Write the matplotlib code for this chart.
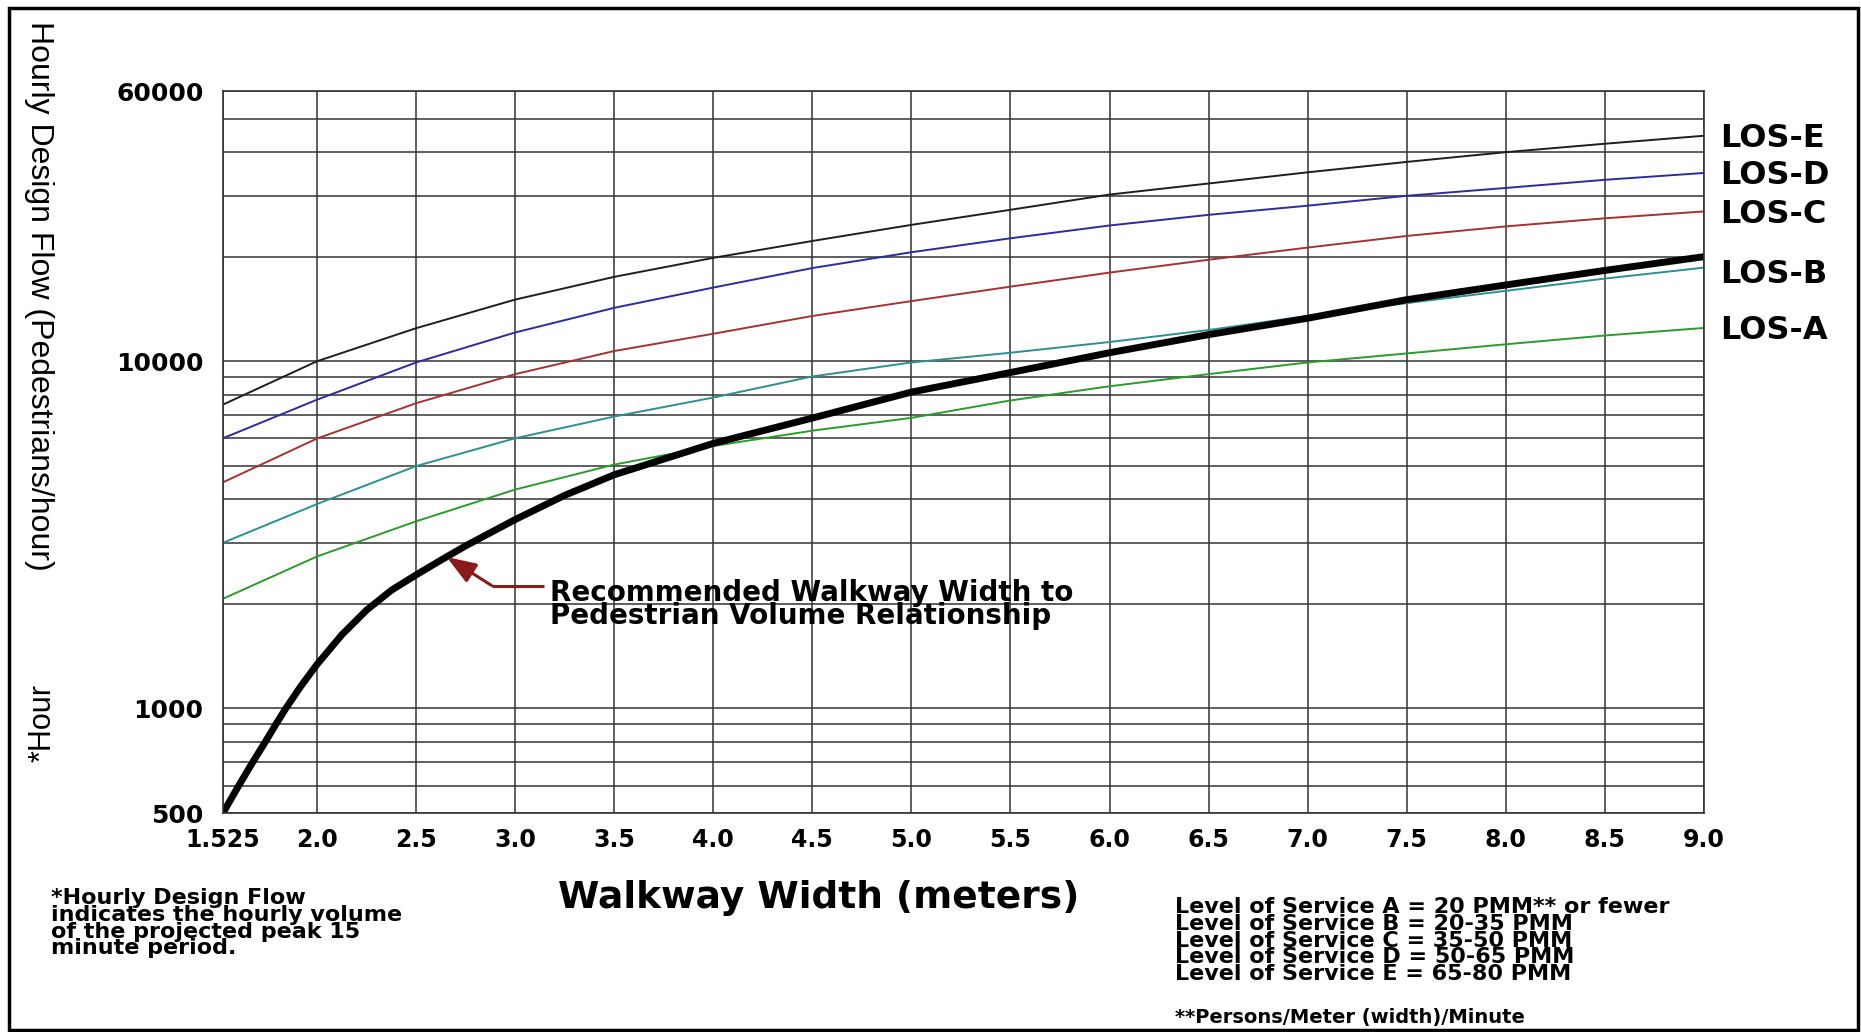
import matplotlib.pyplot as plt
from matplotlib.patches import Rectangle

# walkway width (m) at each grid line
widths = [1.525, 2.0, 2.5, 3.0, 3.5, 4.0, 4.5, 5.0, 5.5, 6.0, 6.5, 7.0, 7.5, 8.0, 8.5, 9.0]

# hourly design flow for each level of service
los_e = [7500, 10000, 12450, 15050, 17500, 19850, 22200, 24700, 27300, 30200, 32500, 35000, 37500, 40000, 42300, 44600]
los_d = [6000, 7750, 9920, 12100, 14250, 16300, 18550, 20600, 22600, 24600, 26400, 28050, 29950, 31550, 33300, 34850]
los_c = [4480, 5990, 7570, 9180, 10700, 12000, 13500, 14900, 16400, 18000, 19600, 21250, 22950, 24450, 25800, 27000]
los_b = [3000, 3880, 4990, 6000, 6930, 7860, 9040, 9920, 10580, 11360, 12300, 13500, 14700, 15950, 17300, 18600]
los_a = [2070, 2740, 3460, 4270, 5040, 5700, 6310, 6870, 7710, 8470, 9180, 9920, 10530, 11190, 11860, 12470]

# recommended walkway width curve
rec_w = [1.525, 1.605, 1.675, 1.738, 1.792, 1.842, 1.92, 2.0, 2.125, 2.25, 2.375, 2.5, 2.625,
         2.75, 3.0, 3.25, 3.5, 4.0, 4.5, 5.0, 5.5, 6.0, 6.5, 7.0, 7.5, 8.0, 8.5, 9.0]
rec_flow = [500, 600, 700, 800, 900, 1000, 1163, 1340, 1630, 1920, 2190, 2425, 2674,
            2940, 3500, 4110, 4710, 5800, 6860, 8150, 9280, 10580, 11930, 13300, 15040,
            16580, 18260, 20000]

x_ticks = widths
x_labels = ["1.525", "2.0", "2.5", "3.0", "3.5", "4.0", "4.5", "5.0", "5.5", "6.0",
            "6.5", "7.0", "7.5", "8.0", "8.5", "9.0"]
y_ticks = [500, 1000, 10000, 60000]
y_minor = [600, 700, 800, 900, 2000, 3000, 4000, 5000, 6000, 7000, 8000, 9000,
           20000, 30000, 40000, 50000]

los_names = ["LOS-E", "LOS-D", "LOS-C", "LOS-B", "LOS-A"]
los_series = [los_e, los_d, los_c, los_b, los_a]
los_colors = ["#1e1e1e", "#2c2c9c", "#a33333", "#2f8f8f", "#2e9a2e"]

# arrow from the caption to the curve
arrow_tip = (2.654, 2730)
arrow_elbow = (2.881, 2260)
caption_pos = (3.175, 1990)

plt.rcParams['font.family'] = ['DejaVu Sans']

fig = plt.figure(figsize=(18.61, 10.32), dpi=100)
ax = fig.add_axes([0.1198, 0.2122, 0.7958, 0.6996])

ax.set_yscale('log')
ax.set_xlim(1.525, 9.0)
ax.set_ylim(500, 60000)

ax.set_xticks(x_ticks)
ax.set_xticklabels(x_labels, fontsize=17, fontweight='bold')
ax.set_yticks(y_ticks)
ax.set_yticklabels([str(v) for v in y_ticks], fontsize=18, fontweight='bold')
ax.set_yticks(y_minor, minor=True)
ax.yaxis.set_minor_formatter(plt.NullFormatter())
ax.tick_params(axis='both', which='both', length=0)
ax.tick_params(axis='x', pad=11)
ax.tick_params(axis='y', pad=14)

ax.grid(True, which='both', color='#333333', lw=1.1)
ax.set_axisbelow(True)
for s in ax.spines.values():
    s.set_color('#333333')
    s.set_linewidth(1.2)

for name, ys, c in zip(los_names, los_series, los_colors):
    ax.plot(widths, ys, color=c, lw=1.4)
    dy = -5 if name == "LOS-B" else -2
    ax.annotate(name, xy=(widths[-1], ys[-1]), xytext=(12, dy), textcoords='offset points',
                va='center', ha='left', fontsize=23, fontweight='bold', annotation_clip=False)

ax.plot(rec_w, rec_flow, color='black', lw=5, solid_capstyle='butt', solid_joinstyle='round')

ax.annotate("", xy=arrow_tip, xytext=arrow_elbow,
            arrowprops=dict(arrowstyle='-|>,head_length=0.6,head_width=0.22', color='#8b1a1a',
                            lw=2.2, mutation_scale=30, shrinkA=0, shrinkB=0))
ax.plot([arrow_elbow[0], caption_pos[0] - 0.03], [arrow_elbow[1], arrow_elbow[1]],
        color='#8b1a1a', lw=2.2, solid_capstyle='butt')
ax.text(caption_pos[0], caption_pos[1],
        "Recommended Walkway Width to\nPedestrian Volume Relationship",
        fontsize=20, fontweight='bold', ha='left', va='center', linespacing=0.76)

fig.text(0.021, 0.713, "Hourly Design Flow (Pedestrians/hour)", rotation=270,
         ha='center', va='center', fontsize=23,
         family=['Liberation Sans', 'DejaVu Sans'])
fig.text(0.023, 0.299, "*Hour", rotation=90, ha='center', va='center', fontsize=22,
         family=['Liberation Sans', 'DejaVu Sans'])

fig.text(0.440, 1 - 898 / 1032, "Walkway Width (meters)", ha='center', va='center',
         fontsize=27, fontweight='bold')

fig.text(51 / 1861, 1 - 888 / 1032,
         "*Hourly Design Flow\nindicates the hourly volume\nof the projected peak 15\nminute period.",
         ha='left', va='top', fontsize=16, fontweight='bold', linespacing=0.8)

fig.text(1175 / 1861, 1 - 897 / 1032,
         "Level of Service A = 20 PMM** or fewer\n"
         "Level of Service B = 20-35 PMM\n"
         "Level of Service C = 35-50 PMM\n"
         "Level of Service D = 50-65 PMM\n"
         "Level of Service E = 65-80 PMM",
         ha='left', va='top', fontsize=16, fontweight='bold', linespacing=0.8)
fig.text(1175 / 1861, 1 - 1018 / 1032, "**Persons/Meter (width)/Minute",
         ha='left', va='center', fontsize=14, fontweight='bold')

# outer frame
fig.patches.append(Rectangle((9 / 1861, 2 / 1032), 1849 / 1861, 1022 / 1032,
                             transform=fig.transFigure, fill=False, ec='black', lw=2.5))

fig.savefig("out.png", dpi=100)
